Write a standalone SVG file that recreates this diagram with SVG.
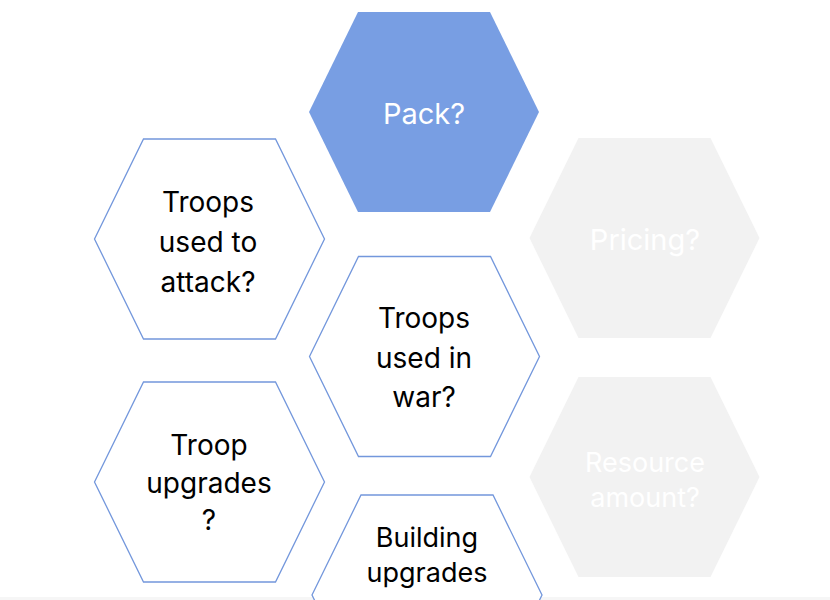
<svg xmlns="http://www.w3.org/2000/svg" xmlns:xlink="http://www.w3.org/1999/xlink" width="830" height="600" viewBox="0 0 830 600">
  <style>
    .hex-o { fill: #ffffff; stroke: #7397dc; stroke-width: 1.3; }
    .hex-b { fill: #789ee3; stroke: none; }
    .hex-g { fill: #f2f2f2; stroke: none; }
    text { font-family: Inter, "Open Sans", "DejaVu Sans", sans-serif; text-anchor: middle; }
    .dk { fill: #000000; font-size: 28px; }
    .wt { fill: #ffffff; font-size: 29px; }
    .ws { fill: #ffffff; font-size: 27px; }
  </style>
  <defs>
    <polygon id="hex" points="-115,0 -66,-100 66,-100 115,0 66,100 -66,100"/>
  </defs>
  <rect width="830" height="600" fill="#ffffff"/>
  <rect x="0" y="597" width="830" height="3" fill="#f6f6f6"/>
  <g id="connectors"></g>

  <g id="pack">
    <use xlink:href="#hex" class="hex-b" transform="translate(424,112)"/>
    <text class="wt" x="424" y="124">Pack?</text>
  </g>

  <g id="pricing">
    <use xlink:href="#hex" class="hex-g" transform="translate(644.5,238)"/>
    <text class="wt" x="645" y="250">Pricing?</text>
  </g>

  <g id="resource">
    <use xlink:href="#hex" class="hex-g" transform="translate(644.5,477)"/>
    <text class="ws" x="645" y="472">Resource</text>
    <text class="ws" x="645" y="507">amount?</text>
  </g>

  <g id="troops-attack">
    <use xlink:href="#hex" class="hex-o" transform="translate(209.5,239)"/>
    <text class="dk" x="208" y="212">Troops</text>
    <text class="dk" x="208" y="252">used to</text>
    <text class="dk" x="208" y="292">attack?</text>
  </g>

  <g id="troops-war">
    <use xlink:href="#hex" class="hex-o" transform="translate(424.5,356.5)"/>
    <text class="dk" x="424" y="328">Troops</text>
    <text class="dk" x="424" y="368">used in</text>
    <text class="dk" x="424" y="407">war?</text>
  </g>

  <g id="troop-upgrades">
    <use xlink:href="#hex" class="hex-o" transform="translate(209.5,482)"/>
    <text class="dk" x="209" y="455">Troop</text>
    <text class="dk" x="209" y="493">upgrades</text>
    <text class="dk" x="209" y="530">?</text>
  </g>

  <g id="building-upgrades">
    <use xlink:href="#hex" class="hex-o" transform="translate(427,595)"/>
    <text class="dk" x="427" y="547" style="font-size:27px">Building</text>
    <text class="dk" x="427" y="582" style="font-size:27px">upgrades</text>
  </g>
</svg>
